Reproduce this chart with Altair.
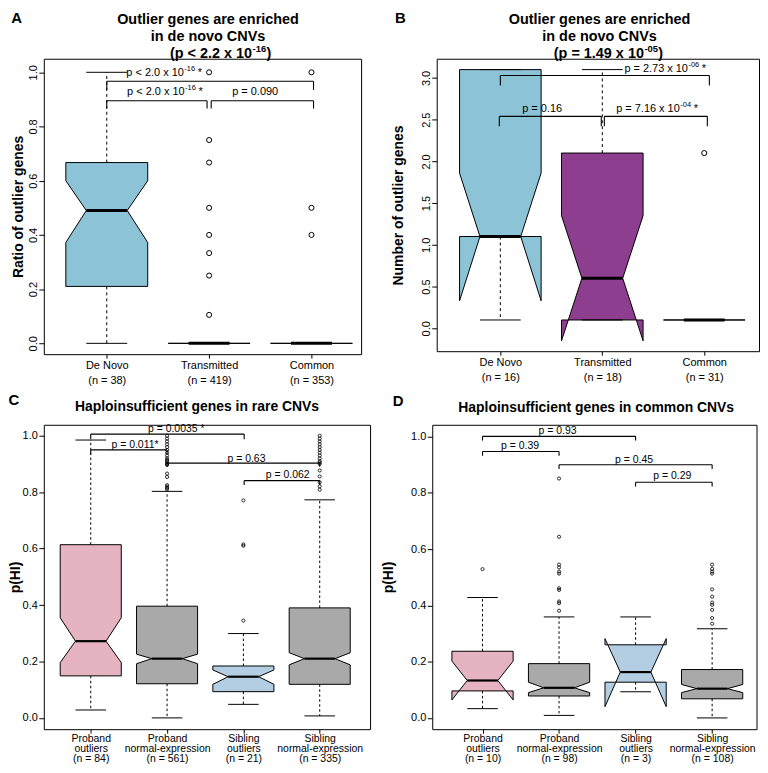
import json
import pandas as pd
import altair as alt

FONT = "Liberation Sans"
NB = "\u00a0"

# ---------------- Panel A : ratio of outlier genes ----------------
A_cats = [["De Novo" + NB * 4, NB + "(n = 38)"],
          ["Transmitted" + NB * 4, NB + "(n = 419)"],
          ["Common" + NB * 4, NB + "(n = 353)"]]
A_q1 = [0.21, 0.0, 0.0]
A_med = [0.49, 0.0, 0.0]
A_q3 = [0.667, 0.0, 0.0]
A_nlo = [0.372, 0.0, 0.0]
A_nhi = [0.600, 0.0, 0.0]
A_wlo = [0.0, 0.0, 0.0]
A_whi = [1.0, 0.0, 0.0]
A_out_grp = [2, 2, 2, 2, 2, 2, 2, 2, 3, 3, 3]
A_out_val = [1.0, 0.75, 0.667, 0.5, 0.4, 0.333, 0.25, 0.105, 1.0, 0.5, 0.4]
A_br_x1 = [1.0, 1.0, 2.02]
A_br_x2 = [3.02, 1.98, 3.02]
A_br_y = [0.967, 0.895, 0.895]
A_br_tick = [0.935, 0.866, 0.866]
A_br_label = ["p < 2.0 x 10", "p < 2.0 x 10", "p = 0.090"]
A_br_exp = ["-16", "-16", ""]
A_br_lx = [1.753, 1.76, 2.45]
A_br_ly = [0.997, 0.928, 0.928]
A_yticks = [0.0, 0.2, 0.4, 0.6, 0.8, 1.0]
A_title = ["Outlier genes are enriched", "in de novo CNVs"]
A_title_p = ["(p < 2.2 x 10", "-16", ")"]

# ---------------- Panel B : number of outlier genes ----------------
B_cats = [["De Novo" + NB * 4, NB + "(n = 16)"],
          ["Transmitted" + NB * 4, NB + "(n = 18)"],
          ["Common" + NB * 4, NB + "(n = 31)"]]
B_q1 = [1.1, 0.1, 0.1]
B_med = [1.1, 0.6, 0.1]
B_q3 = [3.1, 2.1, 0.1]
B_nlo = [0.33, -0.15, 0.1]
B_nhi = [1.86, 1.35, 0.1]
B_wlo = [0.1, 0.1, 0.1]
B_whi = [3.1, 3.1, 0.1]
B_out_grp = [3]
B_out_val = [2.1]
B_br_x1 = [1.0, 0.99, 2.02]
B_br_x2 = [3.05, 1.99, 3.03]
B_br_y = [3.03, 2.54, 2.54]
B_br_tick = [2.91, 2.42, 2.42]
B_br_label = ["p = 2.73 x 10", "p = 0.16", "p = 7.16 x 10"]
B_br_exp = ["-06", "", "-04"]
B_br_lx = [2.84, 1.41, 2.76]
B_br_ly = [3.11, 2.63, 2.63]
B_yticks = [0.0, 0.5, 1.0, 1.5, 2.0, 2.5, 3.0]
B_title = ["Outlier genes are enriched", "in de novo CNVs"]
B_title_p = ["(p = 1.49 x 10", "-05", ")"]

# ---------------- Panel C : pHI in rare CNVs ----------------
C_cats = [["Proband", "outliers", "(n = 84)"],
          ["Proband", "normal-expression", "(n = 561)"],
          ["Sibling", "outliers", "(n = 21)"],
          ["Sibling", "normal-expression", "(n = 335)"]]
C_q1 = [0.149, 0.121, 0.093, 0.119]
C_med = [0.272, 0.210, 0.146, 0.210]
C_q3 = [0.614, 0.396, 0.184, 0.390]
C_nlo = [0.196, 0.192, 0.119, 0.188]
C_nhi = [0.355, 0.226, 0.170, 0.231]
C_wlo = [0.028, 0.0, 0.048, 0.007]
C_whi = [0.985, 0.803, 0.299, 0.773]
C_out_grp = [2] * 20 + [3] * 4 + [4] * 17
C_out_val = [0.81, 0.815, 0.82, 0.825, 0.854, 0.866, 0.897, 0.90, 0.905, 0.91,
             0.915, 0.92, 0.93, 0.94, 0.95, 0.96, 0.97, 0.98, 0.99, 1.0,
             0.345, 0.61, 0.615, 0.771,
             0.809, 0.821, 0.835, 0.856, 0.877, 0.90, 0.905, 0.91, 0.92, 0.93,
             0.94, 0.95, 0.96, 0.97, 0.98, 0.99, 1.0]
C_br_x1 = [1.0, 1.0, 2.0, 3.01]
C_br_x2 = [3.01, 2.0, 4.0, 4.0]
C_br_y = [1.006, 0.950, 0.903, 0.841]
C_br_tick = [0.988, 0.935, 0.890, 0.826]
C_br_label = ["p = 0.0035 *", "p = 0.011*", "p = 0.63", "p = 0.062"]
C_br_exp = ["", "", "", ""]
C_br_lx = [2.12, 1.58, 3.04, 3.58]
C_br_ly = [1.023, 0.966, 0.918, 0.860]
C_yticks = [0.0, 0.2, 0.4, 0.6, 0.8, 1.0]
C_title = ["Haploinsufficient genes in rare CNVs"]

# ---------------- Panel D : pHI in common CNVs ----------------
D_cats = [["Proband", "outliers", "(n = 10)"],
          ["Proband", "normal-expression", "(n = 98)"],
          ["Sibling", "outliers", "(n = 3)"],
          ["Sibling", "normal-expression", "(n = 108)"]]
D_q1 = [0.096, 0.078, 0.127, 0.068]
D_med = [0.133, 0.107, 0.163, 0.104]
D_q3 = [0.237, 0.193, 0.260, 0.172]
D_nlo = [0.064, 0.090, 0.040, 0.090]
D_nhi = [0.202, 0.127, 0.282, 0.119]
D_wlo = [0.033, 0.009, 0.093, 0.0]
D_whi = [0.428, 0.359, 0.359, 0.317]
D_out_grp = [1] + [2] * 11 + [4] * 11
D_out_val = [0.529,
             0.381, 0.408, 0.414, 0.455, 0.461, 0.513, 0.52, 0.535, 0.545, 0.644, 0.851,
             0.335, 0.355, 0.384, 0.402, 0.41, 0.431, 0.457, 0.513, 0.52, 0.53, 0.545]
D_br_x1 = [1.0, 1.0, 2.0, 3.0]
D_br_x2 = [3.0, 2.0, 4.0, 4.0]
D_br_y = [1.001, 0.947, 0.900, 0.838]
D_br_tick = [0.986, 0.932, 0.885, 0.823]
D_br_label = ["p = 0.93", "p = 0.39", "p = 0.45", "p = 0.29"]
D_br_exp = ["", "", "", ""]
D_br_lx = [1.98, 1.49, 2.98, 3.48]
D_br_ly = [1.021, 0.966, 0.917, 0.860]
D_yticks = [0.0, 0.2, 0.4, 0.6, 0.8, 1.0]
D_title = ["Haploinsufficient genes in common CNVs"]

BLUE = "#8CC3D6"
PURPLE = "#8E3E8E"
PINK = "#E6B3C3"
GREY = "#A9A9A9"
LBLUE = "#B3CEE2"


def box_frames(q1, med, q3, nlo, nhi, wlo, whi, fills, hw=0.4, ins=0.2, cap=0.2):
    areas, dash, solid, meds = [], [], [], []
    for i in range(len(q1)):
        c = i + 1
        L, R, IL = c - hw, c + hw, c - ins
        a, m, b, lo, hi = q1[i], med[i], q3[i], nlo[i], nhi[i]

        def lx(y):
            if lo <= y <= hi:
                if y <= m:
                    t = 1.0 if m == lo else (y - lo) / (m - lo)
                else:
                    t = 1.0 if hi == m else (hi - y) / (hi - m)
                return L + (IL - L) * t
            return L

        pid = "b%d" % i
        if a == b:
            for y in (a, b):
                areas.append(dict(piece=pid, y=y, x=L, x2=R, fill=fills[i]))
        else:
            ys = sorted(set([a, b] + [v for v in (m, lo, hi) if a < v < b]))
            for y in ys:
                x = lx(y)
                areas.append(dict(piece=pid, y=y, x=x, x2=2 * c - x, fill=fills[i]))
            if lo < a:
                xa = lx(a)
                areas += [dict(piece=pid + "bl", y=lo, x=L, x2=L, fill=fills[i]),
                          dict(piece=pid + "bl", y=a, x=L, x2=xa, fill=fills[i]),
                          dict(piece=pid + "br", y=lo, x=R, x2=R, fill=fills[i]),
                          dict(piece=pid + "br", y=a, x=2 * c - xa, x2=R, fill=fills[i])]
            if hi > b:
                xb = lx(b)
                areas += [dict(piece=pid + "tl", y=b, x=L, x2=xb, fill=fills[i]),
                          dict(piece=pid + "tl", y=hi, x=L, x2=L, fill=fills[i]),
                          dict(piece=pid + "tr", y=b, x=2 * c - xb, x2=R, fill=fills[i]),
                          dict(piece=pid + "tr", y=hi, x=R, x2=R, fill=fills[i])]
        if whi[i] > b:
            dash.append(dict(x=c, x2=c, y=b, y2=whi[i]))
        if wlo[i] < a:
            dash.append(dict(x=c, x2=c, y=a, y2=wlo[i]))
        solid.append(dict(x=c - cap, x2=c + cap, y=whi[i], y2=whi[i]))
        solid.append(dict(x=c - cap, x2=c + cap, y=wlo[i], y2=wlo[i]))
        meds.append(dict(x=IL, x2=2 * c - IL, y=m, y2=m))
    adf = pd.DataFrame(areas).sort_values(["piece", "y"]).reset_index(drop=True)
    return adf, pd.DataFrame(dash), pd.DataFrame(solid), pd.DataFrame(meds)


def bracket_frame(x1, x2, y, tick):
    rows = []
    for i in range(len(x1)):
        rows.append(dict(x=x1[i], x2=x2[i], y=y[i], y2=y[i]))
        rows.append(dict(x=x1[i], x2=x1[i], y=y[i], y2=tick[i]))
        rows.append(dict(x=x2[i], x2=x2[i], y=y[i], y2=tick[i]))
    return pd.DataFrame(rows)


def label_expr(cats):
    parts = ["datum.value == %d ? %s" % (i + 1, json.dumps(c, ensure_ascii=False))
             for i, c in enumerate(cats)]
    return " : ".join(parts) + " : ''"


ONE = pd.DataFrame(dict(k=[0]))


def ptext(text, x, y, **kw):
    return alt.Chart(ONE).mark_text(text=text, color="black", **kw).encode(
        x=alt.value(x), y=alt.value(y))


def panel(cats, q1, med, q3, nlo, nhi, wlo, whi, fills, out_grp, out_val,
          br_x1, br_x2, br_y, br_tick, br_label, br_exp, br_lx, br_ly, yticks,
          title, title_p, st):
    adf, ddf, sdf, mdf = box_frames(q1, med, q3, nlo, nhi, wlo, whi, fills)
    bdf = bracket_frame(br_x1, br_x2, br_y, br_tick)
    odf = pd.DataFrame(dict(x=out_grp, y=out_val))
    ldf = pd.DataFrame(dict(x=br_lx, y=br_ly, label=br_label, exp=br_exp))
    plain = ldf[ldf["exp"] == ""]
    expo = ldf[ldf["exp"] != ""]

    xsc = alt.Scale(domain=st["xdom"], nice=False, zero=False)
    ysc = alt.Scale(domain=st["ydom"], nice=False, zero=False)
    xax = alt.Axis(values=list(range(1, len(cats) + 1)), labelExpr=label_expr(cats),
                   tickSize=4, labelPadding=st["xlabpad"], labelFontSize=st["xfs"],
                   labelLineHeight=st["xlh"], labelBaseline="top", labelFlush=False,
                   labelOverlap=False, domain=False, grid=False, title=None)
    if st["rot"]:
        yax = alt.Axis(values=yticks, format=".1f", labelAngle=270, labelAlign="center",
                       labelBaseline="bottom", labelPadding=0, tickSize=5, labelFontSize=11,
                       domain=False, grid=False, title=st["ytitle"], titleFontSize=14,
                       titleFontWeight="bold", titleAngle=270, titleX=st["tx"],
                       titleY=st["h"] / 2, titleAlign="center", titleBaseline="middle")
    else:
        yax = alt.Axis(values=yticks, format=".1f", labelAngle=0, labelAlign="right",
                       labelBaseline="middle", labelPadding=1.5, tickSize=5, labelFontSize=11,
                       domain=False, grid=False, title=st["ytitle"], titleFontSize=14,
                       titleFontWeight="bold", titleAngle=270, titleX=st["tx"],
                       titleY=st["h"] / 2, titleAlign="center", titleBaseline="middle")

    X = alt.X("x:Q", scale=xsc, axis=xax)
    Y = alt.Y("y:Q", scale=ysc, axis=yax)

    layers = [
        alt.Chart(adf).mark_area(orient="horizontal", stroke="black",
                                 strokeWidth=st["lw"]).encode(
            y=Y, x=alt.X("x:Q", scale=xsc, axis=xax, stack=None), x2="x2:Q",
            detail="piece:N", fill=alt.Fill("fill:N", scale=None)),
        alt.Chart(ddf).mark_rule(color="black", strokeWidth=st["lw"],
                                 strokeDash=st["dash"]).encode(x=X, x2="x2:Q", y=Y, y2="y2:Q"),
        alt.Chart(sdf).mark_rule(color="black", strokeWidth=st["lw"]).encode(
            x=X, x2="x2:Q", y=Y, y2="y2:Q"),
        alt.Chart(mdf).mark_rule(color="black", strokeWidth=st["mw"]).encode(
            x=X, x2="x2:Q", y=Y, y2="y2:Q"),
        alt.Chart(odf).mark_point(shape="circle", filled=False, color="black",
                                  size=st["psize"], strokeWidth=st["pw"], opacity=1).encode(x=X, y=Y),
        alt.Chart(bdf).mark_rule(color="black", strokeWidth=1.1).encode(
            x=X, x2="x2:Q", y=Y, y2="y2:Q"),
    ]
    if len(plain):
        layers.append(alt.Chart(plain).mark_text(fontSize=st["lfs"], color="black",
                                                 baseline="middle", align="center").encode(
            x=X, y=Y, text="label:N"))
    if len(expo):
        layers += [
            alt.Chart(expo).mark_text(fontSize=st["lfs"], color="black", baseline="middle",
                                      align="right").encode(x=X, y=Y, text="label:N"),
            alt.Chart(expo).mark_text(fontSize=7.5, color="black", baseline="middle",
                                      align="left", dx=0.5, dy=-4).encode(x=X, y=Y, text="exp:N"),
            alt.Chart(expo).mark_text(fontSize=st["lfs"], color="black", baseline="middle",
                                      align="left", dx=14, text="*").encode(x=X, y=Y),
        ]
    # panel letter and title
    layers.append(ptext(st["letter"], st["letx"], st["lety"], align="left", baseline="middle",
                        fontSize=15, fontWeight="bold"))
    layers.append(ptext(title, st["tcx"], st["tby"], align="center", baseline="alphabetic",
                        fontSize=st["tfs"], fontWeight="bold", lineHeight=17))
    if title_p:
        bx, by = st["pbx"], st["pby"]
        layers += [
            ptext(title_p[0], bx, by, align="right", baseline="alphabetic",
                  fontSize=st["tfs"], fontWeight="bold"),
            ptext(title_p[1], bx + 0.5, by - 6, align="left", baseline="alphabetic",
                  fontSize=9.5, fontWeight="bold"),
            ptext(title_p[2], bx + 14.5, by, align="left", baseline="alphabetic",
                  fontSize=st["tfs"], fontWeight="bold"),
        ]
    return alt.layer(*layers).properties(width=st["w"], height=st["h"])


common_ab = dict(rot=True, xlabpad=1, xlh=15, xfs=11, lw=1, mw=3, dash=[3, 3], psize=26, pw=1,
                 lfs=11, tfs=14.5)
common_cd = dict(rot=False, xlabpad=0, xlh=10, xfs=10.5, lw=1, mw=2.2, dash=[2.5, 2.5],
                 psize=10, pw=0.8, lfs=10.5, tfs=14)

stA = dict(common_ab, w=319, h=297, xdom=[0.385, 3.485], ydom=[-0.04, 1.05],
           ytitle="Ratio of outlier genes", tx=-25.7, letter="A", letx=-32.7, lety=-41,
           tcx=165.1, tby=-34.5, pbx=209.3, pby=-0.5)
stB = dict(common_ab, w=324, h=294, xdom=[0.376, 3.537], ydom=[-0.274, 3.23],
           ytitle="Number of outlier genes", tx=-38, letter="B", letx=-42, lety=-41,
           tcx=163.7, tby=-34.5, pbx=208.3, pby=-0.5)
stC = dict(common_cd, w=328, h=306, xdom=[0.385, 4.66], ydom=[-0.04, 1.039],
           ytitle="p(HI)", tx=-28.5, letter="C", letx=-35.5, lety=-24.7,
           tcx=154, tby=-13.7)
stD = dict(common_cd, w=326, h=306, xdom=[0.343, 4.58], ydom=[-0.04, 1.042],
           ytitle="p(HI)", tx=-43.7, letter="D", letx=-39.7, lety=-23.7,
           tcx=164.8, tby=-12.7)

pA = panel(A_cats, A_q1, A_med, A_q3, A_nlo, A_nhi, A_wlo, A_whi, [BLUE] * 3,
           A_out_grp, A_out_val, A_br_x1, A_br_x2, A_br_y, A_br_tick, A_br_label, A_br_exp,
           A_br_lx, A_br_ly, A_yticks, A_title, A_title_p, stA)
pB = panel(B_cats, B_q1, B_med, B_q3, B_nlo, B_nhi, B_wlo, B_whi, [BLUE, PURPLE, "#FFFFFF"],
           B_out_grp, B_out_val, B_br_x1, B_br_x2, B_br_y, B_br_tick, B_br_label, B_br_exp,
           B_br_lx, B_br_ly, B_yticks, B_title, B_title_p, stB)
pC = panel(C_cats, C_q1, C_med, C_q3, C_nlo, C_nhi, C_wlo, C_whi, [PINK, GREY, LBLUE, GREY],
           C_out_grp, C_out_val, C_br_x1, C_br_x2, C_br_y, C_br_tick, C_br_label, C_br_exp,
           C_br_lx, C_br_ly, C_yticks, C_title, None, stC)
pD = panel(D_cats, D_q1, D_med, D_q3, D_nlo, D_nhi, D_wlo, D_whi, [PINK, GREY, LBLUE, GREY],
           D_out_grp, D_out_val, D_br_x1, D_br_x2, D_br_y, D_br_tick, D_br_label, D_br_exp,
           D_br_lx, D_br_ly, D_yticks, D_title, None, stD)

row1 = alt.hconcat(pA, pB, spacing=29)
row2 = alt.hconcat(pC, pD, spacing=9.5)
chart = alt.vconcat(row1, row2, spacing=6, padding=0).configure(
    font=FONT
).configure_view(
    stroke="black", strokeWidth=1
).configure_axis(
    labelFont=FONT, titleFont=FONT, labelColor="black", tickColor="black",
    titleColor="black"
)

chart.save("out.html", embed_options={"renderer": "svg", "actions": False})
